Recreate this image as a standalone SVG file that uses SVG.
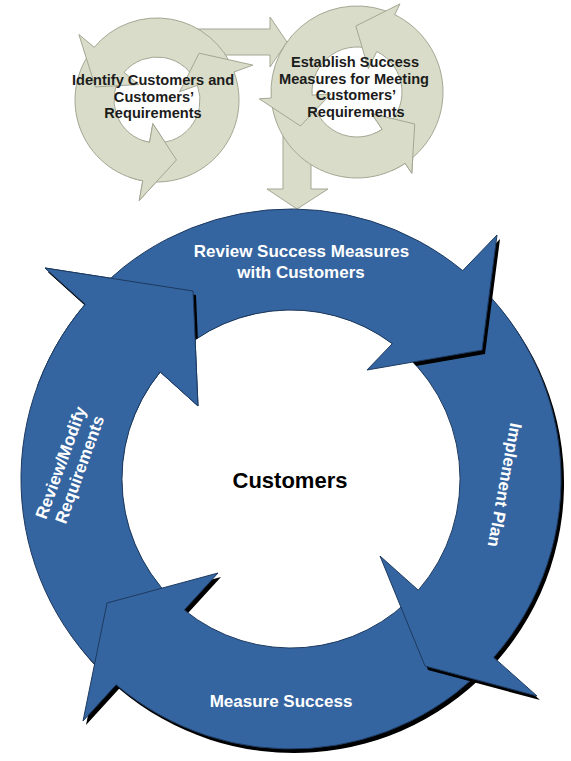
<svg xmlns="http://www.w3.org/2000/svg" xmlns:xlink="http://www.w3.org/1999/xlink" width="571" height="761" viewBox="0 0 571 761">
  <style>
    .g { fill: #d8dcc8; stroke: #a3a793; stroke-width: 1; stroke-linejoin: miter; }
    .b { fill: #3565a0; stroke: #1d3a60; stroke-width: 1; stroke-linejoin: miter; }
    .sh { fill: #000; stroke: none; }
    .gt { font-family: "Liberation Sans", Arial, sans-serif; font-weight: bold; font-size: 14.6px; fill: #1c1c1c; text-anchor: middle; }
    .wt { font-family: "Liberation Sans", Arial, sans-serif; font-weight: bold; font-size: 17px; fill: #ffffff; text-anchor: middle; }
    .ct { font-family: "Liberation Sans", Arial, sans-serif; font-weight: bold; font-size: 22px; fill: #000000; text-anchor: middle; }
  </style>
  <defs>
    <!-- small cycle, left: three counter-clockwise arrows around (157,100) -->
    <path id="l1" d="M 142.76 180.75 A 82 82 0 0 0 234.06 71.96 L 252.85 65.12 L 199.15 53.18 L 179.55 91.79 L 197.41 85.29 A 43 43 0 0 1 149.54 142.35 Z"/>
    <path id="l2" d="M 234.06 71.96 A 82 82 0 0 0 94.19 47.29 L 78.87 34.43 L 95.38 86.9 L 138.62 84.57 L 124.06 72.36 A 43 43 0 0 1 197.41 85.29 Z"/>
    <path id="l3" d="M 94.19 47.29 A 82 82 0 0 0 142.76 180.75 L 139.29 200.45 L 176.47 159.92 L 152.83 123.64 L 149.54 142.35 A 43 43 0 0 1 124.06 72.36 Z"/>
    <!-- small cycle, right: three counter-clockwise arrows around (357,92) -->
    <path id="r1" d="M 405.09 163.29 A 86 86 0 0 0 394.7 14.7 L 399.96 3.92 L 355.84 26.01 L 368.4 68.63 L 376.73 51.55 A 45 45 0 0 1 382.16 129.31 Z"/>
    <path id="r2" d="M 394.7 14.7 A 86 86 0 0 0 271.21 98 L 259.24 98.84 L 300.42 125.99 L 331.06 93.81 L 312.11 95.14 A 45 45 0 0 1 376.73 51.55 Z"/>
    <path id="r3" d="M 271.21 98 A 86 86 0 0 0 405.09 163.29 L 411.8 173.24 L 414.72 124 L 371.54 113.55 L 382.16 129.31 A 45 45 0 0 1 312.11 95.14 Z"/>
    <!-- main cycle: four clockwise arrows around (291,481) -->
    <path id="aTop" d="M 85.2 306.2 A 270 270 0 0 1 462.7 272.6 L 497 237 L 482 352 L 367 372 L 392.3 345.7 A 169 169 0 0 0 160.2 373.9 Z"/>
    <path id="aRight" d="M 462.7 272.6 A 270 270 0 0 1 493.7 659.4 L 537 698 L 425 668 L 380 558 L 418.3 592.2 A 169 169 0 0 0 392.3 345.7 Z"/>
    <path id="aBottom" d="M 493.7 659.4 A 270 270 0 0 1 116.1 686.7 L 83 723 L 107 605 L 218 575 L 184.2 612 A 169 169 0 0 0 418.3 592.2 Z"/>
    <path id="aLeft" d="M 116.1 686.7 A 270 270 0 0 1 85.2 306.2 L 45 270 L 193 293 L 198 408 L 160.2 373.9 A 169 169 0 0 0 184.2 612 Z"/>

    <!-- wedges used to lift the first-drawn arrowhead of each cycle back on top -->
    <clipPath id="wedgeL3"><polygon points="157,100 218.03,214.78 166.07,229.68 112.54,222.16"/></clipPath>
    <clipPath id="wedgeR3"><polygon points="357,92 481.96,127.83 456.59,175.56 409.88,210.76"/></clipPath>
    <clipPath id="wedgeLeft"><polygon points="291,481 -84.9,344.2 23.4,183.7 187.5,94.6"/></clipPath>
    <clipPath id="wedgeLeftShadow"><polygon points="291,481 -40.6,257.3 67.3,149.4 207.8,89.7"/></clipPath>

    <!-- drop shadows stay out of the centre hole, except under the lower-left head -->
    <clipPath id="shadowClip">
      <path clip-rule="evenodd" d="M -20 -20 H 600 V 800 H -20 Z M 460 481 A 169 169 0 1 0 122 481 A 169 169 0 1 0 460 481 Z"/>
      <rect x="175" y="560" width="62" height="66"/>
    </clipPath>
    <filter id="soft" x="-5%" y="-5%" width="110%" height="110%">
      <feGaussianBlur stdDeviation="0.7"/>
    </filter>
  </defs>

  <rect x="0" y="0" width="571" height="761" fill="#ffffff"/>

  <!-- flow arrows between the stages -->
  <g id="connectors">
    <path class="g" d="M 190 29 L 270 29 L 270 17 L 287 42 L 270 67 L 270 55 L 190 55 Z"/>
    <path class="g" d="M 283 128 L 311 128 L 311 189 L 328 189 L 297 209 L 267 189 L 283 189 Z"/>
  </g>

  <!-- stage 1 -->
  <g id="node-identify">
    <use xlink:href="#l3" class="g"/>
    <use xlink:href="#l2" class="g"/>
    <use xlink:href="#l1" class="g"/>
    <g clip-path="url(#wedgeL3)"><use xlink:href="#l3" class="g"/></g>
    <text class="gt" x="153" y="85">Identify Customers and</text>
    <text class="gt" x="154" y="101.5">Customers’</text>
    <text class="gt" x="153" y="118">Requirements</text>
  </g>

  <!-- stage 2 -->
  <g id="node-establish">
    <use xlink:href="#r3" class="g"/>
    <use xlink:href="#r2" class="g"/>
    <use xlink:href="#r1" class="g"/>
    <g clip-path="url(#wedgeR3)"><use xlink:href="#r3" class="g"/></g>
    <text class="gt" x="355" y="67">Establish Success</text>
    <text class="gt" x="354" y="83.5">Measures for Meeting</text>
    <text class="gt" x="356" y="100">Customers’</text>
    <text class="gt" x="356" y="116.5">Requirements</text>
  </g>

  <!-- main review cycle -->
  <g id="node-cycle" transform="translate(0,-2)">
    <g id="step-review-modify">
      <g clip-path="url(#shadowClip)"><use xlink:href="#aLeft" class="sh" transform="translate(3,4)" filter="url(#soft)"/></g>
      <use xlink:href="#aLeft" class="b"/>
    </g>
    <g id="step-measure">
      <g clip-path="url(#shadowClip)"><use xlink:href="#aBottom" class="sh" transform="translate(3,4)" filter="url(#soft)"/></g>
      <use xlink:href="#aBottom" class="b"/>
    </g>
    <g id="step-implement">
      <g clip-path="url(#shadowClip)"><use xlink:href="#aRight" class="sh" transform="translate(3,4)" filter="url(#soft)"/></g>
      <use xlink:href="#aRight" class="b"/>
    </g>
    <g id="step-review-success">
      <g clip-path="url(#shadowClip)"><use xlink:href="#aTop" class="sh" transform="translate(3,4)" filter="url(#soft)"/></g>
      <use xlink:href="#aTop" class="b"/>
    </g>
    <!-- head of the left arrow sits over the tail of the top arrow -->
    <g clip-path="url(#wedgeLeftShadow)">
      <g clip-path="url(#shadowClip)"><use xlink:href="#aLeft" class="sh" transform="translate(3,4)" filter="url(#soft)"/></g>
    </g>
    <g clip-path="url(#wedgeLeft)">
      <use xlink:href="#aLeft" class="b"/>
    </g>
  </g>

  <g id="labels">
    <text class="wt" x="301.5" y="257">Review Success Measures</text>
    <text class="wt" x="301" y="278">with Customers</text>
    <text class="wt" transform="translate(505,485) rotate(100.5)" x="0" y="6">Implement Plan</text>
    <text class="wt" x="281" y="707">Measure Success</text>
    <g transform="translate(70,466) rotate(-70)">
      <text class="wt" x="0" y="-4">Review/Modify</text>
      <text class="wt" x="0" y="16">Requirements</text>
    </g>
  </g>

  <g id="node-customers">
    <text class="ct" x="290" y="488">Customers</text>
  </g>
</svg>
